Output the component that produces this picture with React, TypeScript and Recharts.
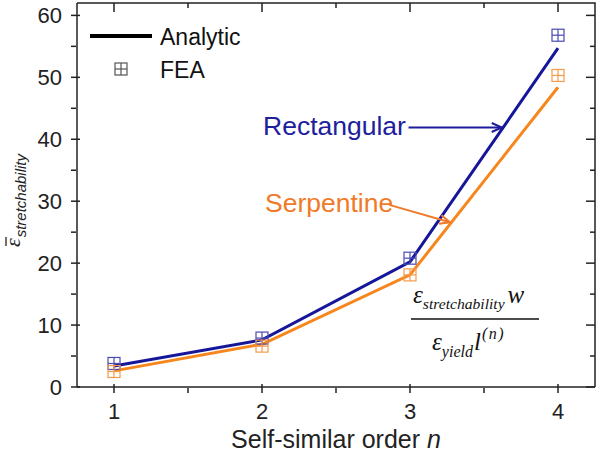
import {
  ComposedChart,
  Line,
  Scatter,
  XAxis,
  YAxis,
  ReferenceLine,
  Customized,
} from 'recharts';

// self-similar order n
const orders = [1, 2, 3, 4];
// analytic curves
const rectAnalytic = [3.4, 7.6, 20.2, 54.7];
const serpAnalytic = [2.6, 6.9, 18.1, 48.4];
// FEA results
const rectFEA = [3.8, 7.9, 20.8, 56.8];
const serpFEA = [2.5, 6.6, 18.1, 50.3];

const xDomain = [0.75, 4.25];
const yDomain = [0, 62];
const xTicks = [1, 1.5, 2, 2.5, 3, 3.5, 4];
const yTicks = [0, 5, 10, 15, 20, 25, 30, 35, 40, 45, 50, 55, 60];

// arrow segments pointing from labels onto the curves
const rectArrow = [{ x: 2.99, y: 41.9 }, { x: 3.62, y: 41.9 }];
const serpArrow = [{ x: 2.86, y: 29.4 }, { x: 3.27, y: 26.6 }];

const BLUE = '#16169a';
const ORANGE = '#f7861d';
const AXIS = '#222';
const FONT = '"Liberation Sans", Arial, sans-serif';
const SERIF = '"Liberation Serif", "Times New Roman", serif';

// plot box (matches chart margins + axis sizes below)
const BOX = { left: 77, top: 3, right: 595, bottom: 387 };

const data = orders.map((n, i) => ({
  n,
  rectA: rectAnalytic[i],
  serpA: serpAnalytic[i],
  rectF: rectFEA[i],
  serpF: serpFEA[i],
}));

const BoxPlus = ({ cx, cy, color }: any) => {
  const h = 6;
  return (
    <g stroke={color} strokeWidth={1.2} fill="none">
      <rect x={cx - h} y={cy - h} width={2 * h} height={2 * h} />
      <line x1={cx - h} y1={cy} x2={cx + h} y2={cy} />
      <line x1={cx} y1={cy - h} x2={cx} y2={cy + h} />
    </g>
  );
};

const BottomTick = ({ x, y, payload }: any) => {
  const major = Number.isInteger(payload.value);
  return (
    <g>
      <line x1={x} y1={y} x2={x} y2={y - (major ? 9 : 5)} stroke={AXIS} strokeWidth={1.5} />
      {major && (
        <text x={x} y={y + 26} textAnchor="middle" fontSize={22} fontFamily={FONT} fill={AXIS}>
          {payload.value}
        </text>
      )}
    </g>
  );
};

const LeftTick = ({ x, y, payload }: any) => {
  const major = payload.value % 10 === 0;
  return (
    <g>
      <line x1={x} y1={y} x2={x + (major ? 9 : 5)} y2={y} stroke={AXIS} strokeWidth={1.5} />
      {major && (
        <text x={x - 9} y={y + 8} textAnchor="end" fontSize={22} fontFamily={FONT} fill={AXIS}>
          {payload.value}
        </text>
      )}
    </g>
  );
};

const Arrow = (props: any) => {
  const { x1, y1, x2, y2, color } = props;
  const a = Math.atan2(y2 - y1, x2 - x1);
  const L = 11;
  const s = 0.42;
  const p1 = `${x2 - L * Math.cos(a - s)},${y2 - L * Math.sin(a - s)}`;
  const p2 = `${x2 - L * Math.cos(a + s)},${y2 - L * Math.sin(a + s)}`;
  return (
    <g stroke={color} strokeWidth={2} fill="none">
      <line x1={x1} y1={y1} x2={x2} y2={y2} />
      <polyline points={`${p1} ${x2},${y2} ${p2}`} />
    </g>
  );
};

// top/right frame edges with mirrored ticks
const Frame = () => {
  const w = BOX.right - BOX.left;
  const h = BOX.bottom - BOX.top;
  const px = (v: number) => BOX.left + ((v - xDomain[0]) / (xDomain[1] - xDomain[0])) * w;
  const py = (v: number) => BOX.bottom - ((v - yDomain[0]) / (yDomain[1] - yDomain[0])) * h;
  return (
    <g stroke={AXIS} strokeWidth={1.5} fill="none">
      <polyline points={`${BOX.left},${BOX.top} ${BOX.right},${BOX.top} ${BOX.right},${BOX.bottom}`} />
      {xTicks.map((v) => (
        <line key={`t${v}`} x1={px(v)} y1={BOX.top} x2={px(v)} y2={BOX.top + (Number.isInteger(v) ? 9 : 5)} />
      ))}
      {yTicks.map((v) => (
        <line key={`r${v}`} x1={BOX.right} y1={py(v)} x2={BOX.right - (v % 10 === 0 ? 9 : 5)} y2={py(v)} />
      ))}
    </g>
  );
};

const Notes = () => (
  <g>
    <Frame />

    {/* legend */}
    <line x1={90} y1={36} x2={152} y2={36} stroke="#000" strokeWidth={4} />
    <text x={160} y={45} fontSize={23} fontFamily={FONT} fill="#111">Analytic</text>
    <BoxPlus cx={121} cy={69} color="#555" />
    <text x={160} y={78} fontSize={23} fontFamily={FONT} fill="#111">FEA</text>

    {/* curve labels */}
    <text x={263} y={135} fontSize={26.5} fontFamily={FONT} fill="#20209c">Rectangular</text>
    <text x={265} y={212} fontSize={26.5} fontFamily={FONT} fill="#f07a28">Serpentine</text>

    {/* normalisation formula */}
    <text x={413} y={303} fontFamily={SERIF} fontStyle="italic" fontSize={25} fill="#111">
      ε<tspan fontSize={15.6} dy={6}>stretchability</tspan>
      <tspan fontSize={25} dy={-6} dx={3}>w</tspan>
    </text>
    <line x1={411} y1={319} x2={539} y2={319} stroke="#111" strokeWidth={1.5} />
    <text x={432} y={350} fontFamily={SERIF} fontStyle="italic" fontSize={25} fill="#111">
      ε<tspan fontSize={16} dy={7}>yield</tspan>
      <tspan fontSize={25} dy={-7} dx={1}>l</tspan>
      <tspan fontSize={16} dy={-11} dx={1} letterSpacing={1.5}>(n)</tspan>
    </text>

    {/* axis titles */}
    <g transform="translate(20,247) rotate(-90)" fill={AXIS}>
      <text x={0} y={0}>
        <tspan fontFamily={SERIF} fontStyle="italic" fontSize={22}>ε</tspan>
        <tspan fontFamily={FONT} fontStyle="italic" fontSize={15} dy={6} dx={1}>stretchability</tspan>
      </text>
      <line x1={1} y1={-14} x2={10} y2={-14} stroke={AXIS} strokeWidth={1.3} />
    </g>
    <text x={336} y={448} textAnchor="middle" fontSize={25} fontFamily={FONT} fill={AXIS}>
      Self-similar order <tspan fontStyle="italic">n</tspan>
    </text>
  </g>
);

export default function App() {
  return (
    <div style={{ position: 'absolute', left: 0, top: 0, background: '#fff' }}>
      <ComposedChart
        width={600}
        height={455}
        data={data}
        margin={{ top: 3, right: 5, left: 0, bottom: 0 }}
      >
        <XAxis
          dataKey="n"
          type="number"
          domain={xDomain}
          ticks={xTicks}
          interval={0}
          height={68}
          tickLine={false}
          tickMargin={0}
          tick={<BottomTick />}
          axisLine={{ stroke: AXIS, strokeWidth: 1.5 }}
        />
        <YAxis
          type="number"
          domain={yDomain}
          ticks={yTicks}
          interval={0}
          width={77}
          tickLine={false}
          tickMargin={0}
          tick={<LeftTick />}
          axisLine={{ stroke: AXIS, strokeWidth: 1.5 }}
        />

        <Line
          type="linear"
          dataKey="rectA"
          stroke={BLUE}
          strokeWidth={3}
          dot={false}
          isAnimationActive={false}
        />
        <Line
          type="linear"
          dataKey="serpA"
          stroke={ORANGE}
          strokeWidth={3}
          dot={false}
          isAnimationActive={false}
        />
        <Scatter
          dataKey="rectF"
          shape={(p: any) => <BoxPlus cx={p.cx} cy={p.cy} color="#4a4ab4" />}
          isAnimationActive={false}
        />
        <Scatter
          dataKey="serpF"
          shape={(p: any) => <BoxPlus cx={p.cx} cy={p.cy} color="#f49a48" />}
          isAnimationActive={false}
        />

        <ReferenceLine segment={rectArrow} shape={(p: any) => <Arrow {...p} color="#1c1c9c" />} />
        <ReferenceLine segment={serpArrow} shape={(p: any) => <Arrow {...p} color="#f07a28" />} />

        <Customized component={<Notes />} />
      </ComposedChart>
    </div>
  );
}
